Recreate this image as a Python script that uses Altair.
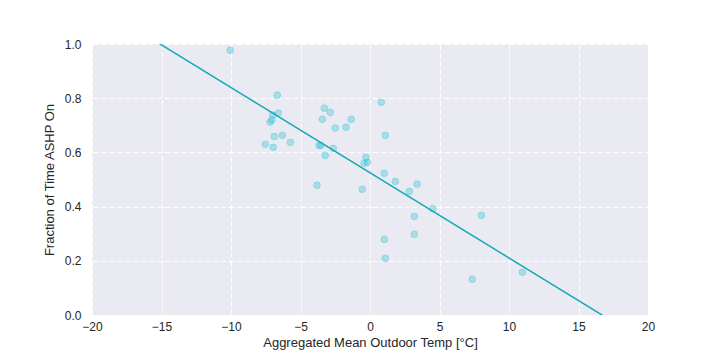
import altair as alt
import pandas as pd

temp = [-10.05, -6.67, -6.60, -7.0, -7.05, -7.19, -6.88, -6.31, -7.53, -6.96,
        -5.73, -3.29, -2.86, -3.43, -1.35, -2.50, -1.73, 0.81, 1.10, -3.67,
        -3.53, -2.64, -3.22, -0.29, -0.43, -0.19, -3.81, -0.55, 1.03, 1.82,
        2.83, 3.40, 4.51, 3.19, 8.01, 3.19, 1.03, 1.10, 7.36, 10.96]
frac = [0.977, 0.811, 0.745, 0.738, 0.720, 0.712, 0.659, 0.663, 0.630, 0.619,
        0.637, 0.763, 0.748, 0.722, 0.722, 0.690, 0.693, 0.785, 0.663, 0.626,
        0.626, 0.615, 0.589, 0.582, 0.560, 0.563, 0.479, 0.464, 0.523, 0.493,
        0.456, 0.483, 0.392, 0.364, 0.368, 0.298, 0.279, 0.209, 0.132, 0.158]

fit_slope = -0.03145
fit_intercept = 0.525
fit_x = [-20, 20]
fit_y = [fit_intercept + fit_slope * v for v in fit_x]

pts = pd.DataFrame({"temp": temp, "frac": frac})
fit = pd.DataFrame({"temp": fit_x, "frac": fit_y})

xscale = alt.Scale(domain=[-20, 20], nice=False, zero=False)
yscale = alt.Scale(domain=[0, 1], nice=False)

common = dict(grid=True, gridColor="white", gridDash=[5, 3], gridWidth=1,
              domain=False, ticks=False, labelFlush=False,
              labelFont="Liberation Sans", titleFont="Liberation Sans",
              labelFontSize=12, titleFontSize=13, labelColor="#262626", titleColor="#262626",
              titleFontWeight="normal")

xaxis = alt.Axis(title="Aggregated Mean Outdoor Temp [°C]", values=[-20, -15, -10, -5, 0, 5, 10, 15, 20],
                 format="d", labelPadding=6, titlePadding=4, **common)
yaxis = alt.Axis(title="Fraction of Time ASHP On", values=[0, 0.2, 0.4, 0.6, 0.8, 1.0],
                 format=".1f", labelPadding=11, titlePadding=8, **common)

scatter = alt.Chart(pts).mark_circle(size=45, color="#17becf", fillOpacity=0.3,
                                     stroke="#17becf", strokeOpacity=0.3, strokeWidth=1).encode(
    x=alt.X("temp:Q", scale=xscale, axis=xaxis),
    y=alt.Y("frac:Q", scale=yscale, axis=yaxis),
)

line = alt.Chart(fit).mark_line(color="#17a7b7", strokeWidth=1.5, clip=True).encode(
    x=alt.X("temp:Q", scale=xscale),
    y=alt.Y("frac:Q", scale=yscale),
)

chart = alt.layer(scatter, line).properties(
    width=556, height=271,
    autosize=alt.AutoSizeParams(type="none"),
    padding={"left": 84, "top": 36, "right": 64, "bottom": 37},
    background="white",
).configure_view(fill="#eaeaf2", stroke=None)

chart.save("out.html", embed_options={"renderer": "svg", "actions": False})
